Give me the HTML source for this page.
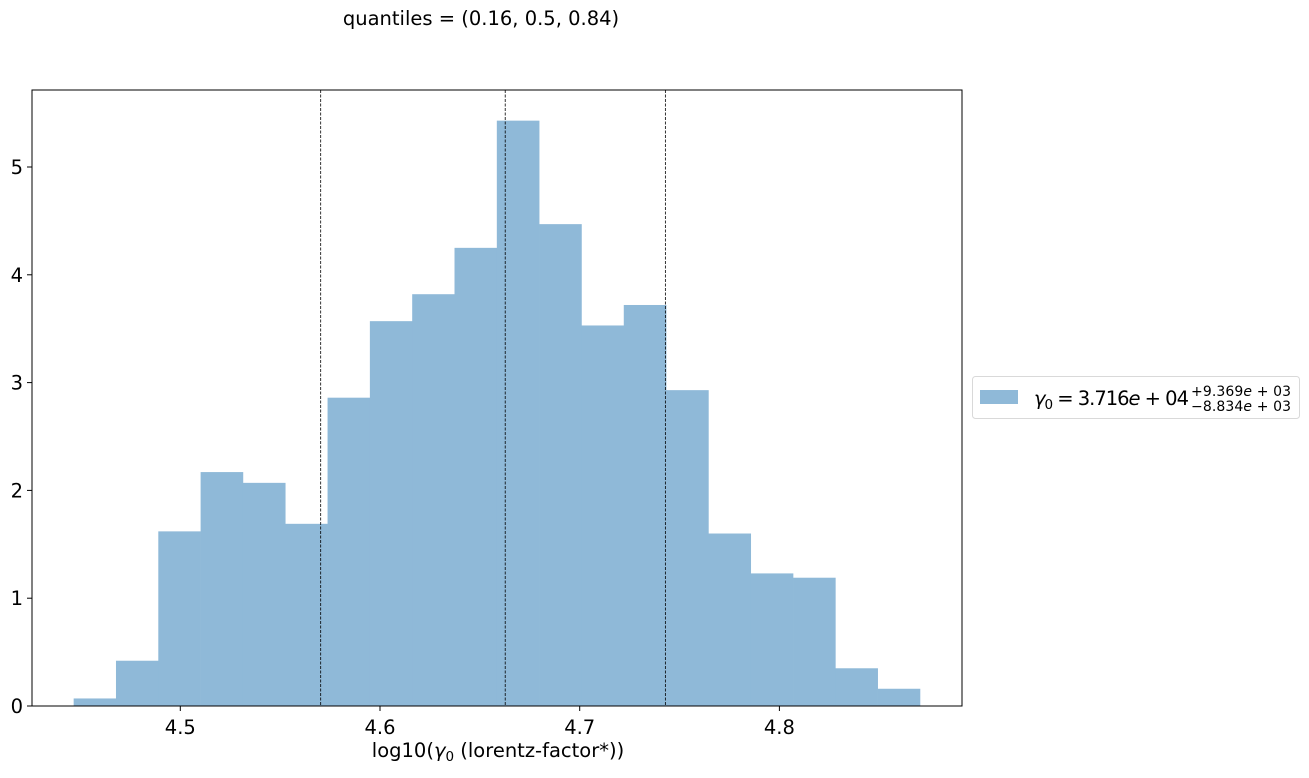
<!DOCTYPE html>
<html><head><meta charset="utf-8"><style>
body{margin:0;background:#fff}
svg text{font-family:"DejaVu Sans","Liberation Sans",sans-serif;fill:#000}
</style></head><body>
<svg width="1309" height="773" viewBox="0 0 1309 773">
<g id="plot"></g>
</svg>
<script>
const binStart = 4.4466;
const binWidth = 0.02119;
const counts = [0.07,0.42,1.62,2.17,2.07,1.69,2.86,3.57,3.82,4.25,5.43,4.47,3.53,3.72,2.93,1.60,1.23,1.19,0.35,0.16];
const quantiles = [4.5703,4.6627,4.7429];
const xTicks = [4.5,4.6,4.7,4.8];
const yTicks = [0,1,2,3,4,5];

const L=32,R=962,T=90,B=706;
const xs=v=>180.3+(v-4.5)*1997;
const ys=v=>706-v*107.8;
const NS='http://www.w3.org/2000/svg';
const g=document.getElementById('plot');
function mk(tag,attrs){const e=document.createElementNS(NS,tag);for(const k in attrs)e.setAttribute(k,attrs[k]);g.appendChild(e);return e;}

counts.forEach((c,i)=>{
  const x0=xs(binStart+i*binWidth),x1=xs(binStart+(i+1)*binWidth);
  const r=mk('rect',{x:x0,y:ys(c),width:x1-x0+0.3,height:ys(0)-ys(c),fill:'#8fb9d8'});
  
  
});
quantiles.forEach(q=>{
  const l=mk('line',{x1:xs(q),x2:xs(q),y1:T,y2:B,stroke:'#000','stroke-width':0.8,'stroke-dasharray':'3,1.5'});
  
  
});
const frame=mk('rect',{x:L,y:T,width:R-L,height:B-T,fill:'none',stroke:'#000','stroke-width':1});


xTicks.forEach(v=>{
  mk('line',{x1:xs(v),x2:xs(v),y1:B,y2:B+5,stroke:'#000'});
  const t=mk('text',{x:xs(v),y:B+28,'text-anchor':'middle','font-size':19.5});
  t.textContent=v.toFixed(1);
  
  
});
yTicks.forEach(v=>{
  mk('line',{x1:L-5,x2:L,y1:ys(v),y2:ys(v),stroke:'#000'});
  const t=mk('text',{x:L-9,y:ys(v)+7,'text-anchor':'end','font-size':19.5});
  t.textContent=v;
  
  
});
</script>
<svg style="position:absolute;left:0;top:0" width="1309" height="773">
<text x="481" y="25" text-anchor="middle" font-size="19.5">quantiles = (0.16, 0.5, 0.84)</text>
<text x="498" y="757" text-anchor="middle" font-size="19.5">log10(<tspan font-style="italic">γ</tspan><tspan font-size="13.5" dy="4">0</tspan><tspan dy="-4"> (lorentz-factor*))</tspan></text>
<g>
<rect x="972.5" y="376.5" width="327" height="42" rx="3" fill="#fff" stroke="#d9d9d9"/>
<rect x="980" y="390" width="38" height="14" fill="#8fb9d8"/>
<text x="1034" y="405" font-size="19.5" textLength="155" lengthAdjust="spacing"><tspan font-style="italic">γ</tspan><tspan font-size="13.5" dy="4">0</tspan><tspan dy="-4"> = 3.716</tspan><tspan font-style="italic">e</tspan> + 04</text>
<text x="1191" y="396" font-size="14" textLength="100" lengthAdjust="spacing">+9.369<tspan font-style="italic">e</tspan> + 03</text>
<text x="1191" y="411" font-size="14" textLength="100" lengthAdjust="spacing">−8.834<tspan font-style="italic">e</tspan> + 03</text>
</g>
</svg>
</body></html>
